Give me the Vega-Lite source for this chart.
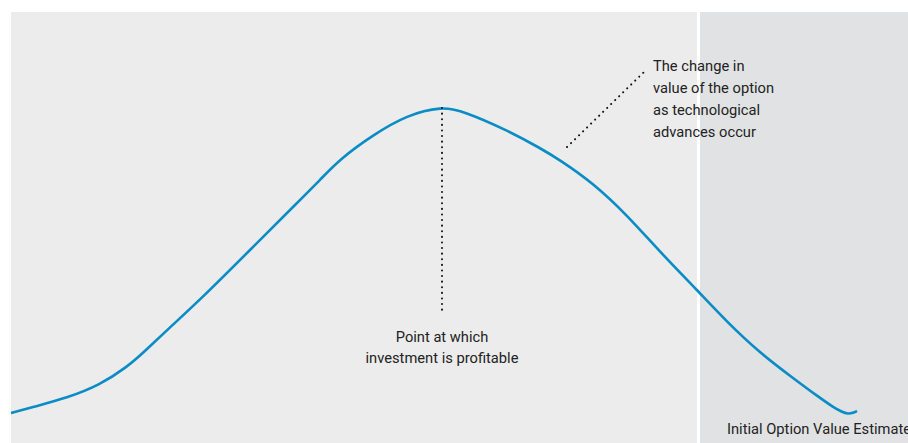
{
  "$schema": "https://vega.github.io/schema/vega-lite/v6.json",
  "width": 908,
  "height": 443,
  "autosize": {"type": "none"},
  "padding": 0,
  "background": "white",
  "config": {"view": {"stroke": null}},
  "datasets": {
    "regions": [
      {"x": 11, "x2": 697, "y": 0, "y2": 431, "zone": "before"},
      {"x": 700, "x2": 908, "y": 0, "y2": 431, "zone": "after"}
    ],
    "curve": [
      {"x": 11, "y": 30}, {"x": 33, "y": 36}, {"x": 67, "y": 45}, {"x": 100, "y": 58},
      {"x": 127, "y": 76}, {"x": 143, "y": 90}, {"x": 167, "y": 113}, {"x": 200, "y": 143},
      {"x": 250, "y": 193}, {"x": 300, "y": 243}, {"x": 320, "y": 263}, {"x": 340, "y": 284},
      {"x": 373, "y": 308}, {"x": 407, "y": 328}, {"x": 442, "y": 336.5}, {"x": 463, "y": 332},
      {"x": 507, "y": 313}, {"x": 540, "y": 295}, {"x": 560, "y": 283}, {"x": 593, "y": 260},
      {"x": 627, "y": 228}, {"x": 660, "y": 191}, {"x": 697, "y": 153}, {"x": 727, "y": 121},
      {"x": 760, "y": 90}, {"x": 793, "y": 65}, {"x": 820, "y": 45}, {"x": 833, "y": 36},
      {"x": 842, "y": 31}, {"x": 848, "y": 29}, {"x": 853, "y": 30}, {"x": 857, "y": 32}
    ],
    "pointers": [
      {"x": 442, "x2": 442, "y": 335, "y2": 132},
      {"x": 567, "x2": 644, "y": 296, "y2": 371}
    ],
    "labels": [
      {"x": 653, "y": 372, "label": "The change in\nvalue of the option\nas technological\nadvances occur", "align": "left"},
      {"x": 442, "y": 101, "label": "Point at which\ninvestment is profitable", "align": "center"},
      {"x": 727, "y": 9, "label": "Initial Option Value Estimate", "align": "left"}
    ]
  },
  "layer": [
    {
      "data": {"name": "regions"},
      "mark": {"type": "rect"},
      "encoding": {
        "x": {"field": "x", "type": "quantitative", "scale": {"domain": [0, 908], "nice": false, "zero": false}, "axis": null},
        "x2": {"field": "x2"},
        "y": {"field": "y", "type": "quantitative", "scale": {"domain": [0, 443], "nice": false, "zero": false}, "axis": null},
        "y2": {"field": "y2"},
        "color": {"field": "zone", "type": "nominal", "scale": {"domain": ["before", "after"], "range": ["#ececec", "#e1e2e4"]}, "legend": null}
      }
    },
    {
      "data": {"name": "curve"},
      "mark": {"type": "line", "interpolate": "basis", "color": "#0a8cc6", "strokeWidth": 2.6},
      "encoding": {
        "x": {"field": "x", "type": "quantitative"},
        "y": {"field": "y", "type": "quantitative"}
      }
    },
    {
      "data": {"name": "pointers"},
      "mark": {"type": "rule", "color": "#111111", "strokeWidth": 2, "strokeDash": [0.1, 5.5], "strokeCap": "round"},
      "encoding": {
        "x": {"field": "x", "type": "quantitative"},
        "x2": {"field": "x2"},
        "y": {"field": "y", "type": "quantitative"},
        "y2": {"field": "y2"}
      }
    },
    {
      "data": {"name": "labels"},
      "transform": [{"filter": "datum.align === 'left'"}],
      "mark": {"type": "text", "align": "left", "baseline": "alphabetic", "lineBreak": "\n", "lineHeight": 22, "font": "Roboto", "fontSize": 14.7, "color": "#222222"},
      "encoding": {
        "x": {"field": "x", "type": "quantitative"},
        "y": {"field": "y", "type": "quantitative"},
        "text": {"field": "label"}
      }
    },
    {
      "data": {"name": "labels"},
      "transform": [{"filter": "datum.align === 'center'"}],
      "mark": {"type": "text", "align": "center", "baseline": "alphabetic", "lineBreak": "\n", "lineHeight": 21, "font": "Roboto", "fontSize": 14.7, "color": "#222222"},
      "encoding": {
        "x": {"field": "x", "type": "quantitative"},
        "y": {"field": "y", "type": "quantitative"},
        "text": {"field": "label"}
      }
    }
  ]
}
